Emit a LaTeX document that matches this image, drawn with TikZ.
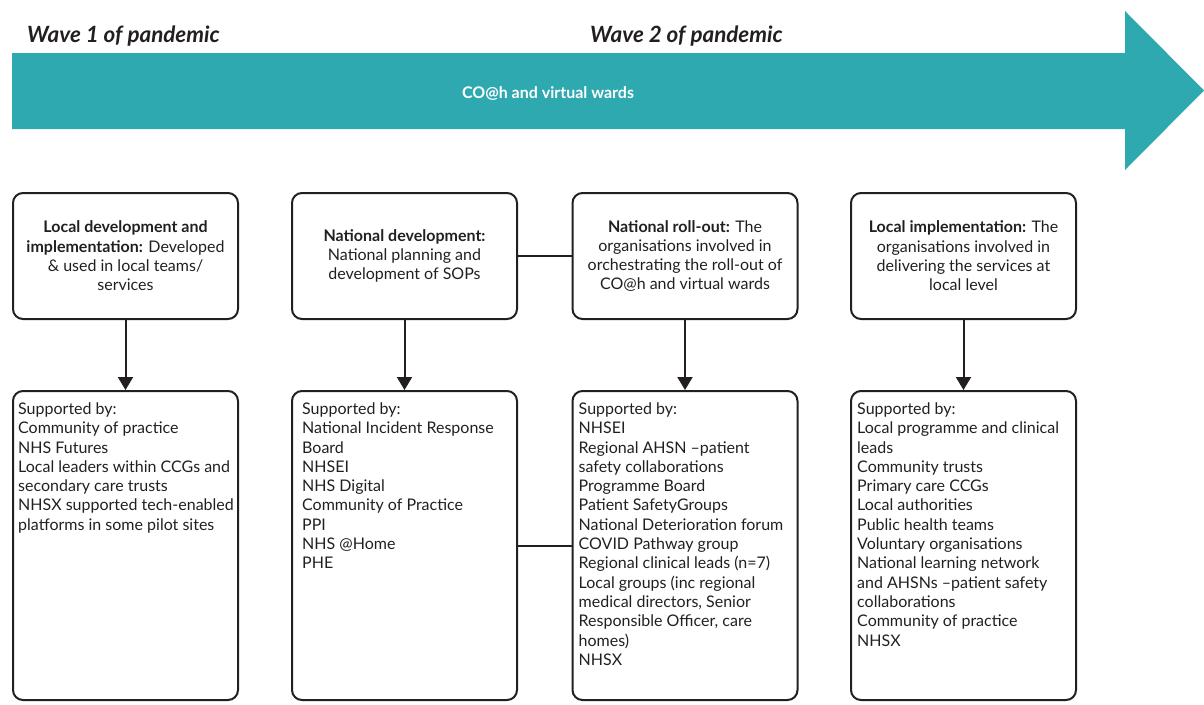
\documentclass[tikz,border=0pt]{standalone}
\usepackage{fontspec}
\setmainfont{Lato}
\usetikzlibrary{arrows.meta}
\definecolor{teal}{RGB}{45,169,175}
\definecolor{ink}{RGB}{35,31,32}
\begin{document}
\begin{tikzpicture}[x=1pt,y=-1pt,
  box/.style={draw=ink, line width=2pt, rounded corners=10pt, minimum width=225pt, inner sep=0pt},
  topbox/.style={box, minimum height=126pt},
  botbox/.style={box, minimum height=309pt},
  toptext/.style={align=center, text=ink, font=\fontsize{16}{19.3}\selectfont, inner sep=0pt},
  bottext/.style={align=left, text=ink, font=\fontsize{16}{19.3}\selectfont, inner sep=0pt, anchor=north west},
  link/.style={draw=ink, line width=2pt},
  down/.style={link, -{Triangle[width=15pt,length=13pt]}},
  wave/.style={font=\fontsize{22.4}{26}\selectfont\bfseries\itshape, text=ink, anchor=base west, inner sep=0pt}
]
\useasboundingbox (0,0) rectangle (1204,704);

% timeline arrow
\fill[teal] (12,53) -- (1125,53) -- (1125,11) -- (1204,90.5) -- (1125,170) -- (1125,129) -- (12,129) -- cycle;
\node[text=white, font=\fontsize{16}{19}\selectfont\bfseries] (band) at (548,94) {CO@h and virtual wards};
\node[wave] (w1) at (27,42) {Wave 1 of pandemic};
\node[wave] (w2) at (590,42) {Wave 2 of pandemic};

% top boxes
\node[topbox] (a1) at (125.5,256) {};
\node[topbox] (a2) at (404.5,256) {};
\node[topbox] (a3) at (685,256) {};
\node[topbox] (a4) at (963.5,256) {};
\node[toptext] (ta1) at (a1.center) {\textbf{Local development and}\\\textbf{implementation:} Developed\\\& used in local teams/\\services};
\node[toptext] (ta2) at (a2.center) {\textbf{National development:}\\National planning and\\development of SOPs};
\node[toptext] (ta3) at (a3.center) {\textbf{National roll-out:} The\\organisations involved in\\orchestrating the roll-out of\\CO@h and virtual wards};
\node[toptext] (ta4) at (a4.center) {\textbf{Local implementation:} The\\organisations involved in\\delivering the services at\\local level};

% bottom boxes
\node[botbox] (b1) at (125.5,545.5) {};
\node[botbox] (b2) at (404.5,545.5) {};
\node[botbox] (b3) at (685,545.5) {};
\node[botbox] (b4) at (963.5,545.5) {};
\node[bottext] (tb1) at ([xshift=6pt,yshift=-12.5pt]b1.north west) {Supported by:\\Community of practice\\NHS Futures\\Local leaders within CCGs and\\secondary care trusts\\NHSX supported tech-enabled\\platforms in some pilot sites};
\node[bottext] (tb2) at ([xshift=11pt,yshift=-12.5pt]b2.north west) {Supported by:\\National Incident Response\\Board\\NHSEI\\NHS Digital\\Community of Practice\\PPI\\NHS @Home\\PHE};
\node[bottext] (tb3) at ([xshift=7pt,yshift=-12.5pt]b3.north west) {Supported by:\\NHSEI\\Regional AHSN –patient\\safety collaborations\\Programme Board\\Patient SafetyGroups\\National Deterioration forum\\COVID Pathway group\\Regional clinical leads (n=7)\\Local groups (inc regional\\medical directors, Senior\\Responsible Officer, care\\homes)\\NHSX};
\node[bottext] (tb4) at ([xshift=7pt,yshift=-12.5pt]b4.north west) {Supported by:\\Local programme and clinical\\leads\\Community trusts\\Primary care CCGs\\Local authorities\\Public health teams\\Voluntary organisations\\National learning network\\and AHSNs –patient safety\\collaborations\\Community of practice\\NHSX};

% connectors
\draw[down] (a1.south) -- (b1.north);
\draw[down] (a2.south) -- (b2.north);
\draw[down] (a3.south) -- (b3.north);
\draw[down] (a4.south) -- (b4.north);
\draw[link] (a2.east) -- (a3.west);
\draw[link] (b2.east) -- (b3.west);
\end{tikzpicture}
\end{document}
